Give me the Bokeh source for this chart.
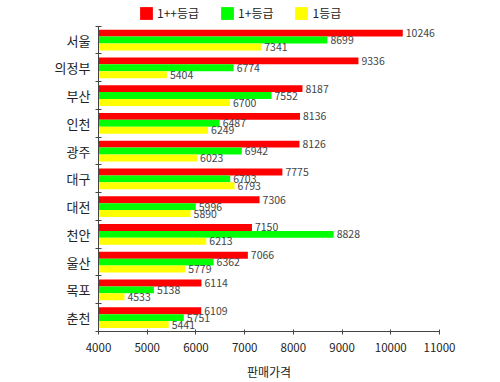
import numpy as np
from bokeh.plotting import figure
from bokeh.models import Range1d, FixedTicker, Legend, LegendItem, ColumnDataSource
from bokeh.core.properties import value
from bokeh.embed import file_html
from bokeh.resources import INLINE

cities = ["서울", "의정부", "부산", "인천", "광주", "대구", "대전", "천안", "울산", "목포", "춘천"]
series_names = ["1++등급", "1+등급", "1등급"]
g1pp = [10246, 9336, 8187, 8136, 8126, 7775, 7306, 7150, 7066, 6114, 6109]
g1p = [8699, 6774, 7552, 6487, 6942, 6703, 5996, 8828, 6362, 5138, 5751]
g1 = [7341, 5404, 6700, 6249, 6023, 6793, 5890, 6213, 5779, 4533, 5441]
colors = ["#FF0000", "#00FF00", "#FFFF00"]
x_ticks = [4000, 5000, 6000, 7000, 8000, 9000, 10000, 11000]

FONT = "Noto Sans CJK KR"
n = len(cities)
centers = np.arange(n) + 0.5
bar_h = 0.25
offsets = [-bar_h, 0.0, bar_h]

# frame: 335px tall, categories occupy the lower 309px; top 26px hold the legend
top_pad = 26 / (309 / n)

p = figure(width=484, height=382, output_backend="svg", toolbar_location=None,
           x_range=Range1d(4000, 11000), y_range=Range1d(n, -top_pad),
           min_border_left=98, min_border_right=45, min_border_top=0, min_border_bottom=47)
p.outline_line_color = None
p.xgrid.visible = False
p.ygrid.visible = False
p.background_fill_color = "white"

renderers = []
for vals, col, off in zip([g1pp, g1p, g1], colors, offsets):
    src = ColumnDataSource(dict(y=centers + off, right=vals, label=[str(v) for v in vals]))
    r = p.hbar(y="y", left=4000, right="right", height=bar_h, fill_color=col, line_color=None, source=src)
    renderers.append((r, src))

for r, src in renderers:
    p.text(x="right", y="y", text="label", source=src, x_offset=3,
           text_baseline="middle", text_align="left", text_font_size="10.5px",
           text_color="#444444", text_font=value(FONT))

# x axis
p.xaxis.ticker = FixedTicker(ticks=x_ticks)
p.xaxis.axis_label = "판매가격"
p.xaxis.axis_label_text_font = FONT
p.xaxis.axis_label_text_font_style = "normal"
p.xaxis.axis_label_text_font_size = "12px"
p.xaxis.axis_label_text_color = "#222222"
p.xaxis.axis_label_standoff = 8
p.xaxis.major_label_text_font = FONT
p.xaxis.major_label_text_font_size = "11.5px"
p.xaxis.major_label_text_color = "#222222"
p.xaxis.major_label_standoff = 8
p.xaxis.major_tick_in = 2
p.xaxis.major_tick_out = 3
p.xaxis.minor_tick_line_color = None
p.xaxis.axis_line_color = "#444444"
p.xaxis.major_tick_line_color = "#444444"

# y axis: labels at centers, ticks at boundaries
p.yaxis.bounds = (0, n)
p.yaxis.ticker = FixedTicker(ticks=list(centers), minor_ticks=list(range(n + 1)))
p.yaxis.major_label_overrides = {float(c): name for c, name in zip(centers, cities)}
p.yaxis.major_tick_in = 0
p.yaxis.major_tick_out = 0
p.yaxis.minor_tick_in = 3
p.yaxis.minor_tick_out = 3
p.yaxis.minor_tick_line_color = "#444444"
p.yaxis.axis_line_color = "#444444"
p.yaxis.major_label_text_font = FONT
p.yaxis.major_label_text_font_size = "13px"
p.yaxis.major_label_text_color = "#222222"
p.yaxis.major_label_standoff = 5

legend = Legend(items=[LegendItem(label=nm, renderers=[r]) for nm, (r, s) in zip(series_names, renderers)],
                orientation="horizontal", location=(40, 310), padding=0, margin=0,
                glyph_width=16, glyph_height=16, spacing=20, label_standoff=3,
                label_text_font=FONT, label_text_font_size="12px", label_text_color="#222222",
                border_line_color=None, background_fill_alpha=0, label_height=16)
p.add_layout(legend, "center")

open("out.html", "w").write(file_html(p, INLINE))
